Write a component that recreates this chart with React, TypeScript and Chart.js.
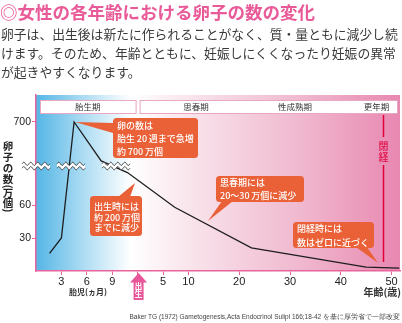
import React, { useEffect, useRef } from 'react';
import { Chart, registerables } from 'chart.js';

Chart.register(...registerables);

// ---- data ----
// fetal period: months of gestation -> number of eggs (万個)
const fetalMonths = [1.6, 3, 4.5, 7.7, 10.8];
const fetalCounts = [16, 30, 700, 400, 310];
// after birth: age in years -> number of eggs (万個)
const ages = [7.3, 22.4, 45, 51.5];
const ageCounts = [58, 21, 3.6, 2.7];

const xTickPositions = [1, 2, 3, 4, 5, 6, 8, 10, 12, 14];
const xTickLabels = ['3', '6', '9', '', '5', '10', '20', '30', '40', '50'];
const yTickValues = [30, 60, 700];
const yTickLabels = ['30', '60', '700'];
const phaseLabels = ['胎生期', '思春期', '性成熟期', '更年期'];
const menopauseAge = 48.3;
const birthPos = 4;

const JP = '"Noto Sans CJK JP", "Noto Sans", sans-serif';
const LAT = '"Liberation Sans", Arial, sans-serif';
const PINK = '#e8649c';
const ORANGE = '#ea6138';

// timeline: 3 months per unit before birth; birth at 4; 5 years per unit afterwards
const monthToPos = (m: number) => m / 3;
const ageToPos = (a: number) => birthPos + a / 5;
// broken y axis: linear up to 60, compressed above the break
const countToPos = (v: number) => (v <= 60 ? v : 60 + ((v - 60) * 75.5) / 640);

const points = [
  ...fetalMonths.map((m, i) => ({ x: monthToPos(m), y: countToPos(fetalCounts[i]) })),
  ...ages.map((a, i) => ({ x: ageToPos(a), y: countToPos(ageCounts[i]) })),
];

type Callout = {
  lines: string[];
  box: [number, number, number, number];
  tip: [number, number] | 'peak';
  base: [number, number][];
  ys: number[];
};

const T = '\u2009';
const callouts: Callout[] = [
  {
    lines: ['卵の数は', `胎生${T}20${T}週まで急増`, `約${T}700${T}万個`],
    box: [113, 118, 85, 40],
    tip: 'peak',
    base: [[113, 123], [113, 133]],
    ys: [126, 139, 152],
  },
  {
    lines: ['出生時には', `約${T}200${T}万個`, 'までに減少'],
    box: [90, 196, 52, 40],
    tip: [135, 183],
    base: [[118, 197], [130, 197]],
    ys: [207, 217.5, 228],
  },
  {
    lines: ['思春期には', `20〜30${T}万個に減少`],
    box: [216, 176, 88, 26],
    tip: [208, 221],
    base: [[222, 201], [233, 201]],
    ys: [182.5, 196],
  },
  {
    lines: ['閉経時には', '数はゼロに近づく'],
    box: [293, 222, 81, 26],
    tip: [378, 263],
    base: [[356, 247], [367, 247]],
    ys: [228.5, 242.5],
  },
];

function roundRect(ctx: CanvasRenderingContext2D, x: number, y: number, w: number, h: number, r: number) {
  ctx.beginPath();
  ctx.moveTo(x + r, y);
  ctx.lineTo(x + w - r, y);
  ctx.arcTo(x + w, y, x + w, y + r, r);
  ctx.lineTo(x + w, y + h - r);
  ctx.arcTo(x + w, y + h, x + w - r, y + h, r);
  ctx.lineTo(x + r, y + h);
  ctx.arcTo(x, y + h, x, y + h - r, r);
  ctx.lineTo(x, y + r);
  ctx.arcTo(x, y, x + r, y, r);
  ctx.closePath();
}

function wave(ctx: CanvasRenderingContext2D, x0: number, x1: number, y: number, dir: number) {
  const amp = 1.6;
  const period = 7;
  if (dir > 0) {
    ctx.moveTo(x0, y);
    for (let x = x0; x <= x1; x += 0.5) ctx.lineTo(x, y - amp * Math.sin(((x - x0) / period) * Math.PI * 2));
  } else {
    for (let x = x1; x >= x0; x -= 0.5) ctx.lineTo(x, y - amp * Math.sin(((x - x0) / period) * Math.PI * 2));
  }
}

const decorPlugin = {
  id: 'decor',
  beforeDraw(chart: any) {
    const { ctx, chartArea: a } = chart;
    const g = ctx.createLinearGradient(a.left, 0, a.right, 0);
    g.addColorStop(0, '#55b6e6');
    g.addColorStop(0.12, '#a6d9f2');
    g.addColorStop(0.26, '#ffffff');
    g.addColorStop(0.45, '#f8e0e9');
    g.addColorStop(0.72, '#f0b9cf');
    g.addColorStop(1, '#e888b1');
    ctx.save();
    ctx.fillStyle = g;
    ctx.fillRect(a.left, a.top, a.right - a.left, a.bottom - a.top);
    ctx.restore();
  },
  afterDraw(chart: any) {
    const { ctx, chartArea: a } = chart;
    const xs = chart.scales.x;
    const ys = chart.scales.y;
    ctx.save();

    // phase boxes
    const bx1 = a.left + 4;
    const bx2 = xs.getPixelForValue(birthPos) + 2;
    const bRight = a.right - 3;
    const bTop = 100;
    const bH = 13;
    ctx.fillStyle = '#ffffff';
    ctx.strokeStyle = '#e9a6c2';
    ctx.lineWidth = 1;
    ctx.fillRect(bx1, bTop, bx2 - 4 - bx1, bH);
    ctx.strokeRect(bx1 + 0.5, bTop + 0.5, bx2 - 4 - bx1, bH);
    ctx.fillRect(bx2, bTop, bRight - bx2, bH);
    ctx.strokeRect(bx2 + 0.5, bTop + 0.5, bRight - bx2, bH);
    ctx.fillStyle = '#333';
    ctx.font = `8.5px ${JP}`;
    ctx.textAlign = 'center';
    ctx.textBaseline = 'middle';
    ctx.fillText(phaseLabels[0], (bx1 + bx2 - 4) / 2, bTop + bH / 2 + 0.5);
    ctx.fillText(phaseLabels[1], xs.getPixelForValue(ageToPos(11.5)), bTop + bH / 2 + 0.5);
    ctx.fillText(phaseLabels[2], xs.getPixelForValue(ageToPos(31)), bTop + bH / 2 + 0.5);
    ctx.fillText(phaseLabels[3], xs.getPixelForValue(ageToPos(47)), bTop + bH / 2 + 0.5);

    // axis break waves
    const wy = 166;
    const segs: [number, number][] = [[22, 50], [57, 85], [102, 130]];
    for (const [x0, x1] of segs) {
      ctx.beginPath();
      wave(ctx, x0, x1, wy - 2.2, 1);
      wave(ctx, x0, x1, wy + 2.2, -1);
      ctx.closePath();
      ctx.fillStyle = '#ffffff';
      ctx.fill();
      ctx.strokeStyle = '#333';
      ctx.lineWidth = 0.9;
      ctx.beginPath();
      wave(ctx, x0, x1, wy - 2.2, 1);
      ctx.stroke();
      ctx.beginPath();
      wave(ctx, x0, x1, wy + 2.2, 1);
      ctx.stroke();
    }

    // menopause line
    const mx = Math.round(xs.getPixelForValue(ageToPos(menopauseAge))) + 0.5;
    ctx.strokeStyle = '#e4003a';
    ctx.lineWidth = 1.5;
    ctx.beginPath();
    ctx.moveTo(mx, 115);
    ctx.lineTo(mx, 137);
    ctx.moveTo(mx, 165);
    ctx.lineTo(mx, 262);
    ctx.stroke();
    ctx.fillStyle = '#e2245a';
    ctx.font = `bold 10px ${JP}`;
    ctx.textAlign = 'center';
    ctx.fillText('閉', mx, 146.5);
    ctx.fillText('経', mx, 157);

    // callouts
    const peakX = xs.getPixelForValue(monthToPos(fetalMonths[2]));
    const peakY = ys.getPixelForValue(countToPos(fetalCounts[2]));
    for (const c of callouts) {
      const [x, y, w, h] = c.box;
      const tip = c.tip === 'peak' ? [peakX + 1, peakY] : c.tip;
      ctx.fillStyle = ORANGE;
      roundRect(ctx, x, y, w, h, 3.5);
      ctx.fill();
      ctx.beginPath();
      ctx.moveTo(c.base[0][0], c.base[0][1]);
      ctx.lineTo(tip[0], tip[1]);
      ctx.lineTo(c.base[1][0], c.base[1][1]);
      ctx.closePath();
      ctx.fill();
      ctx.fillStyle = '#ffffff';
      ctx.font = `500 9px ${JP}`;
      ctx.textAlign = 'left';
      ctx.textBaseline = 'middle';
      c.lines.forEach((t, i) => ctx.fillText(t, x + 4, c.ys[i]));
    }

    // y axis title (vertical writing)
    ctx.fillStyle = '#222';
    ctx.font = `bold 10.5px ${JP}`;
    ctx.textAlign = 'center';
    ctx.textBaseline = 'middle';
    const yChars: [string, number][] = [
      ['卵', 146], ['子', 157], ['の', 168], ['数', 179], ['(', 186.5], ['万', 193], ['個', 203.5], [')', 210.5],
    ];
    for (const [ch, cy] of yChars) {
      if (ch === '(' || ch === ')') {
        ctx.save();
        ctx.translate(8, cy);
        ctx.rotate(Math.PI / 2);
        ctx.fillText(ch, 0, 0);
        ctx.restore();
      } else {
        ctx.fillText(ch, 8, cy);
      }
    }

    // x sub labels
    ctx.font = `bold 8px ${JP}`;
    ctx.fillStyle = '#333';
    ctx.fillText('胎児(ヵ月)', 88, 292);
    ctx.font = `bold 10px ${JP}`;
    ctx.textAlign = 'right';
    ctx.fillText('年齢(歳)', 401, 292);

    // birth arrow
    const bx = xs.getPixelForValue(birthPos) + 1;
    ctx.fillStyle = '#e9579b';
    ctx.beginPath();
    ctx.moveTo(bx, 273);
    ctx.lineTo(bx + 8.5, 282.5);
    ctx.lineTo(bx + 5, 282.5);
    ctx.lineTo(bx + 5, 300);
    ctx.lineTo(bx - 5, 300);
    ctx.lineTo(bx - 5, 282.5);
    ctx.lineTo(bx - 8.5, 282.5);
    ctx.closePath();
    ctx.fill();
    ctx.fillStyle = '#ffffff';
    ctx.font = `bold 7.5px ${JP}`;
    ctx.textAlign = 'center';
    ctx.fillText('出', bx, 286);
    ctx.fillText('生', bx, 294.5);

    ctx.restore();
  },
};

export default function App() {
  const ref = useRef<HTMLCanvasElement | null>(null);
  useEffect(() => {
    if (!ref.current) return;
    const chart = new Chart(ref.current, {
      type: 'line',
      data: {
        datasets: [
          {
            data: points,
            borderColor: '#1e1e1e',
            borderWidth: 1.3,
            pointRadius: 0,
            tension: 0,
            fill: false,
          },
        ],
      },
      options: {
        responsive: false,
        maintainAspectRatio: false,
        animation: false,
        devicePixelRatio: 1,
        layout: { padding: { top: 95, right: 2, left: 0, bottom: 0 } },
        plugins: { legend: { display: false }, tooltip: { enabled: false } },
        scales: {
          x: {
            type: 'linear',
            min: 0,
            max: 14.33,
            afterBuildTicks: (s: any) => {
              s.ticks = xTickPositions.map((v) => ({ value: v }));
            },
            afterFit: (s: any) => {
              s.height = 52;
            },
            ticks: {
              autoSkip: false,
              maxRotation: 0,
              padding: 0,
              color: '#222',
              font: { size: 11, family: LAT },
              callback: (v: any) => {
                const i = xTickPositions.indexOf(Number(v));
                return i >= 0 ? xTickLabels[i] : '';
              },
            },
            grid: { drawOnChartArea: false, tickLength: 4, color: PINK, lineWidth: 1 },
            border: { color: PINK, width: 1.5 },
          },
          y: {
            type: 'linear',
            min: 0,
            max: 160,
            afterBuildTicks: (s: any) => {
              s.ticks = yTickValues.map((v) => ({ value: countToPos(v) }));
            },
            afterFit: (s: any) => {
              s.width = 36;
            },
            ticks: {
              padding: 1,
              color: '#222',
              font: { size: 10.5, family: LAT },
              callback: (_v: any, i: number) => yTickLabels[i],
            },
            grid: { drawOnChartArea: false, tickLength: 4, color: PINK, lineWidth: 1 },
            border: { color: PINK, width: 1.5 },
          },
        },
      },
      plugins: [decorPlugin],
    });
    return () => chart.destroy();
  }, []);

  return (
    <div style={{ position: 'fixed', left: 0, top: 0, width: 402, height: 323, background: '#fff', overflow: 'hidden' }}>
      <canvas ref={ref} width={402} height={323} style={{ position: 'absolute', left: 0, top: 0, width: 402, height: 323 }} />
      <div
        style={{
          position: 'absolute', left: 0, top: 2, whiteSpace: 'nowrap',
          fontFamily: JP, fontWeight: 700, fontSize: 17.5, lineHeight: '20px', color: '#e95b98',
        }}
      >
        ◎女性の各年齢における卵子の数の変化
      </div>
      <div
        style={{
          position: 'absolute', left: 1, top: 24, whiteSpace: 'nowrap',
          fontFamily: JP, fontSize: 12.8, lineHeight: '19px', color: '#3a3a3a',
        }}
      >
        卵子は、出生後は新たに作られることがなく、質・量ともに減少し続<br />
        けます。そのため、年齢とともに、妊娠しにくくなったり妊娠の異常<br />
        が起きやすくなります。
      </div>
      <div
        style={{
          position: 'absolute', right: 2, top: 312, whiteSpace: 'nowrap',
          fontFamily: LAT, fontSize: 6.5, lineHeight: '9px', color: '#444',
        }}
      >
        Baker TG (1972) Gametogenesis,Acta Endocrinol Sulipl 166;18-42 を基に厚労省で一部改変
      </div>
    </div>
  );
}
